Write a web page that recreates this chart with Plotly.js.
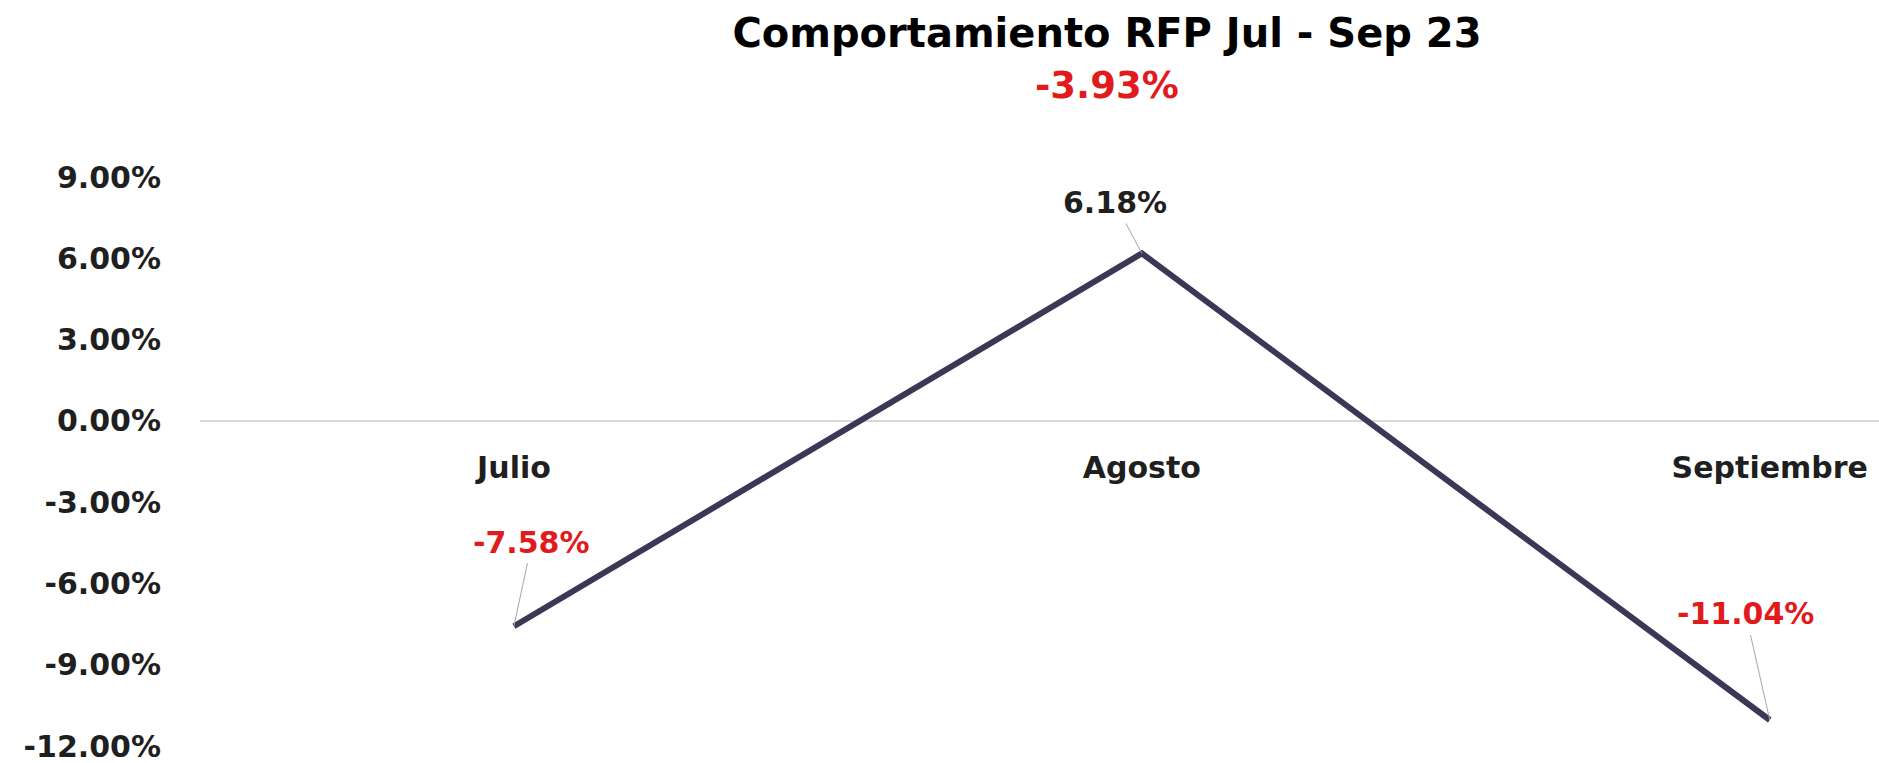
<!DOCTYPE html>
<html>
<head>
<meta charset="utf-8">
<script src="https://cdn.plot.ly/plotly-3.0.1.min.js"></script>
<style>html,body{margin:0;padding:0;background:#fff;}#chart{width:1879px;height:763px;}</style>
</head>
<body>
<div id="chart"></div>
<script>
// ---- data ----
const months = ["Julio", "Agosto", "Septiembre"];
const values = [-7.58, 6.18, -11.04];          // % monthly change
const totalChange = -3.93;                     // % Jul - Sep
const yTickVals = [9, 6, 3, 0, -3, -6, -9, -12];
const yTickLabels = ["9.00%", "6.00%", "3.00%", "0.00%", "-3.00%", "-6.00%", "-9.00%", "-12.00%"];
const titleText = "Comportamiento RFP Jul - Sep 23";
// label offsets (px) from each point to its data label
const labelDX = [18, -27, -24];
const labelDY = [-84, -51, -106];

const RED = "#e31a1c";
const INK = "#1f1f1f";
const fmt = v => v.toFixed(2) + "%";

const PLOT_TOP = 177, PLOT_BOTTOM = 746, PLOT_LEFT = 200;

const trace = {
  type: "scatter",
  mode: "lines",
  x: months,
  y: values,
  line: { color: "#3e3656", width: 6 },
  hoverinfo: "x+y"
};

const annotations = months.map((m, i) => ({
  x: m, y: values[i], xref: "x", yref: "y",
  text: fmt(values[i]),
  showarrow: true, arrowhead: 0, arrowwidth: 1, arrowcolor: "#a6a6a6",
  ax: labelDX[i], ay: labelDY[i], standoff: 0, borderpad: 3,
  font: { family: "DejaVu Sans", size: 30, weight: 700, color: values[i] < 0 ? RED : INK }
}));

// overall change shown under the title
annotations.push({
  xref: "paper", yref: "paper",
  x: (1107 - PLOT_LEFT) / (1879 - PLOT_LEFT), y: (PLOT_BOTTOM - 86) / (PLOT_BOTTOM - PLOT_TOP),
  xanchor: "center", yanchor: "middle",
  text: fmt(totalChange), showarrow: false,
  font: { family: "DejaVu Sans", size: 37, weight: 700, color: RED }
});

const layout = {
  width: 1879, height: 763,
  margin: { l: PLOT_LEFT, r: 0, t: PLOT_TOP, b: 763 - PLOT_BOTTOM },
  paper_bgcolor: "#ffffff", plot_bgcolor: "#ffffff",
  showlegend: false,
  title: {
    text: titleText,
    x: 1107 / 1879, xanchor: "center", xref: "container",
    y: 1 - 33 / 763, yanchor: "middle", yref: "container",
    font: { family: "DejaVu Sans", size: 40, weight: 700, color: "#000000" }
  },
  xaxis: {
    type: "category",
    range: [-0.5, 2.174],
    anchor: "free", position: 12 / 21,
    showgrid: false, zeroline: false, showline: false, ticks: "",
    ticklabelstandoff: 26,
    tickfont: { family: "DejaVu Sans", size: 30, weight: 700, color: INK },
    automargin: false
  },
  yaxis: {
    range: [-12, 9],
    tickvals: yTickVals, ticktext: yTickLabels,
    showgrid: false, showline: false, ticks: "",
    zeroline: true, zerolinecolor: "#d9d9d9", zerolinewidth: 1.5,
    ticklabelstandoff: 38,
    ticklabeloverflow: "allow",
    tickfont: { family: "DejaVu Sans", size: 30, weight: 700, color: INK },
    automargin: false
  },
  annotations: annotations
};

Plotly.newPlot("chart", [trace], layout, { displayModeBar: false, responsive: false });
</script>
</body>
</html>
